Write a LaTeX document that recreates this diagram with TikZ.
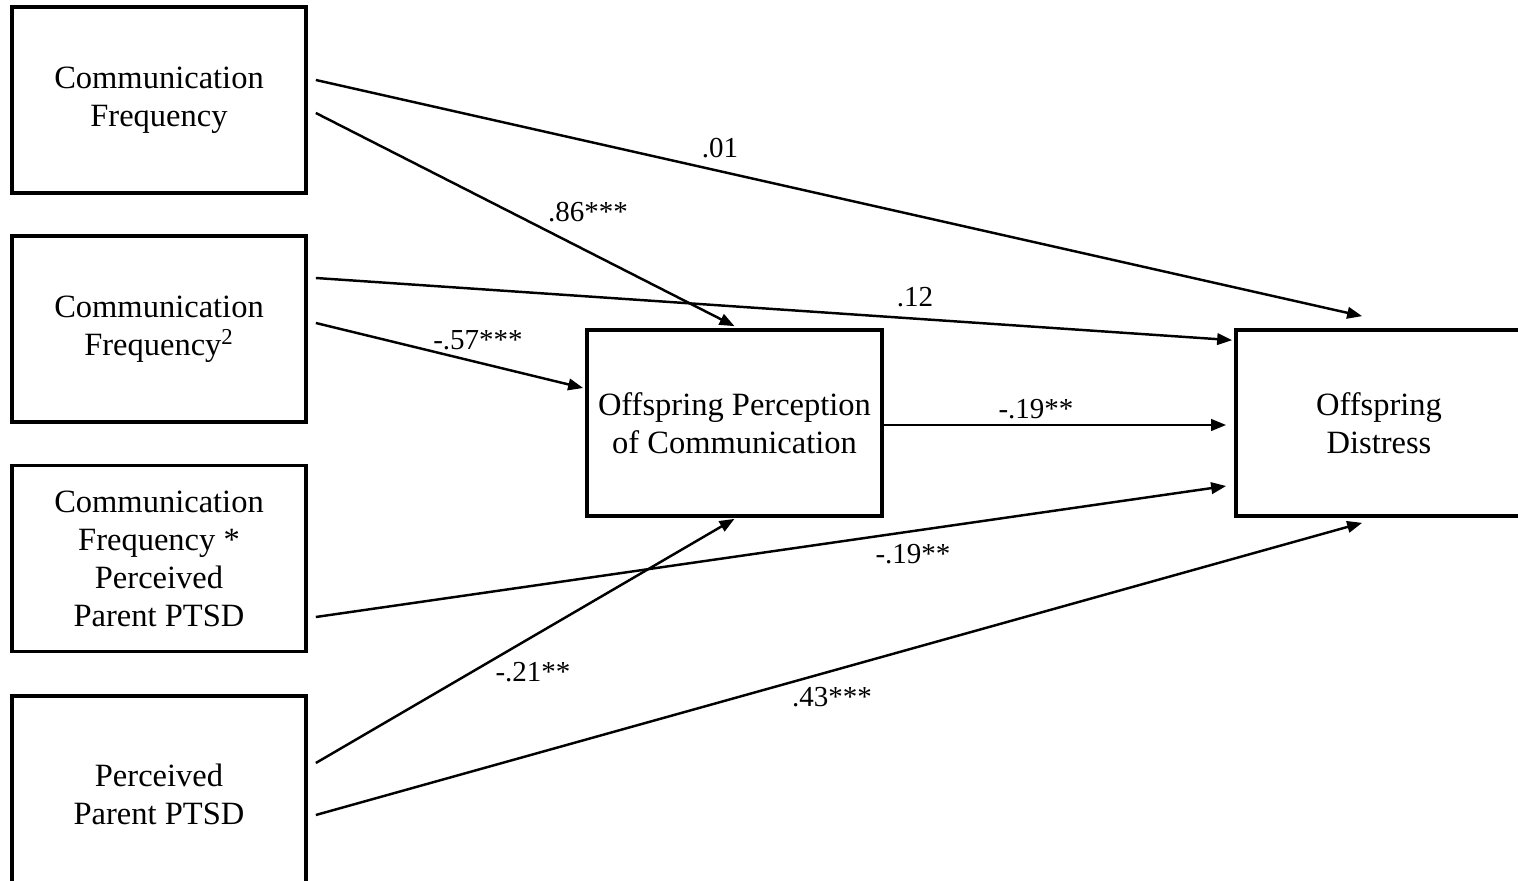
\documentclass[tikz,border=0pt]{standalone}
\usepackage{fontspec}
\setmainfont{Liberation Serif}
\usetikzlibrary{calc,arrows.meta}
\tikzset{
  boxnode/.style={draw, line width=2.1pt, minimum width=5.88cm, minimum height=3.72cm, align=center, inner sep=0pt, font=\fontsize{18.5}{21.6}\selectfont},
  conn/.style={line width=1.4pt, -{Triangle[length=3mm,width=2.3mm]}},
  coef/.style={font=\fontsize{16.5}{19}\selectfont, inner sep=1pt}
}
\begin{document}
\begin{tikzpicture}
\useasboundingbox (0,0) rectangle (30.36,17.6);
\clip (0,0) rectangle (30.36,17.6);
\fill[white] (0,0) rectangle (30.36,17.6);
\node[boxnode] (b1) at (3.18,15.6) {Communication\\Frequency};
\node[boxnode] (b2) at (3.18,11.02) {Communication\\Frequency\textsuperscript{2}};
\node[boxnode] (b3) at (3.18,6.43) {Communication\\Frequency *\\Perceived\\Parent PTSD};
\node[boxnode, minimum height=3.92cm] (b4) at (3.18,1.72) {Perceived\\Parent PTSD};
\node[boxnode, minimum width=5.9cm] (m) at (14.69,9.14) {Offspring Perception\\of Communication};
\node[boxnode, minimum width=5.72cm] (r) at (27.58,9.14) {Offspring\\Distress};

\draw[conn] ($(b1.east)+(0.16,0.4)$) -- ($(r.north west)+(2.56,0.24)$);
\draw[conn] ($(b1.east)+(0.16,-0.26)$) -- ($(m.north)+(0,0.04)$);
\draw[conn] ($(b2.east)+(0.16,1.02)$) -- ($(r.north west)+(-0.04,-0.24)$);
\draw[conn] ($(b2.east)+(0.16,0.12)$) -- ($(m.west)+(-0.04,0.7)$);
\draw[conn] ($(m.east)+(0,-0.04)$) -- ($(r.west)+(-0.16,-0.04)$);
\draw[conn] ($(b3.east)+(0.16,-1.17)$) -- ($(r.west)+(-0.16,-1.26)$);
\draw[conn] ($(b4.east)+(0.16,0.62)$) -- ($(m.south)+(0,-0.02)$);
\draw[conn] ($(b4.east)+(0.16,-0.42)$) -- ($(r.south west)+(2.56,-0.1)$);

\node[coef] (l1) at (14.4,14.64) {.01};
\node[coef] (l2) at (11.76,13.36) {.86***};
\node[coef] (l3) at (18.3,11.66) {.12};
\node[coef] (l4) at (9.56,10.8) {-.57***};
\node[coef] (l5) at (20.72,9.42) {-.19**};
\node[coef] (l6) at (18.26,6.52) {-.19**};
\node[coef] (l7) at (10.66,4.16) {-.21**};
\node[coef] (l8) at (16.64,3.66) {.43***};
\end{tikzpicture}
\end{document}
